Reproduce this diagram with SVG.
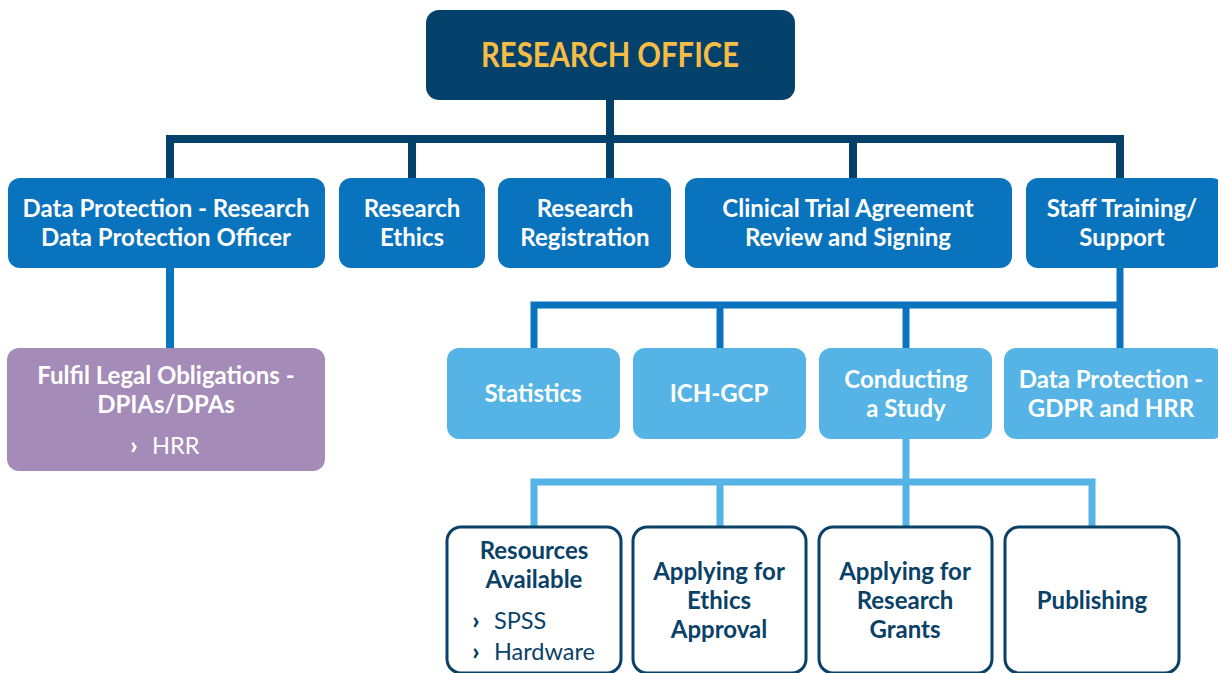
<svg xmlns="http://www.w3.org/2000/svg" width="1218" height="673" viewBox="0 0 1218 673">
<style>
text{font-family:Lato,"Noto Sans","Liberation Sans",sans-serif;text-anchor:middle;font-weight:bold}
.t1{fill:#fff;font-size:24px}
.t3{fill:#0a4167;font-size:24px}
.n{font-weight:normal;text-anchor:start;font-size:23.5px}
.ch{font-size:25px;font-weight:900}
.b1{fill:#0a73be}
.b2{fill:#55b4e5}
.b3{fill:#fff;stroke:#0a4167;stroke-width:3}
.c{fill:none;stroke-linejoin:miter;stroke-linecap:butt}
</style>
<rect width="1218" height="673" fill="#fff"/>
<g id="connectors">
<path class="c" d="M610,100 V178" stroke="#05426b" stroke-width="8"/>
<path class="c" d="M170,178 V139 H1120 V178 M412,139 V178 M853,139 V178" stroke="#05426b" stroke-width="8"/>
<path class="c" d="M170,268 V348" stroke="#0a73be" stroke-width="8"/>
<path class="c" d="M1120,268 V348 M534,348 V305 H1120 M720,305 V348 M906,305 V348" stroke="#0a73be" stroke-width="7"/>
<path class="c" d="M906,439 V527 M534,527 V482 H1092 V527 M720,482 V527" stroke="#55b4e5" stroke-width="7"/>
</g>
<g id="research-office">
<rect x="426" y="10" width="369" height="90" rx="13" fill="#05426b"/>
<text x="610" y="67" textLength="258" lengthAdjust="spacingAndGlyphs" style="font-size:34px;fill:#f5bd45">RESEARCH OFFICE</text>
</g>
<g id="data-protection-research">
<rect class="b1" x="8" y="178" width="317" height="90" rx="12"/>
<text class="t1" x="166" y="217">Data Protection - Research</text>
<text class="t1" x="166" y="246">Data Protection Officer</text>
</g>
<g id="research-ethics">
<rect class="b1" x="339" y="178" width="146" height="90" rx="12"/>
<text class="t1" x="412" y="217">Research</text>
<text class="t1" x="412" y="246">Ethics</text>
</g>
<g id="research-registration">
<rect class="b1" x="498" y="178" width="173" height="90" rx="12"/>
<text class="t1" x="585" y="217">Research</text>
<text class="t1" x="585" y="246">Registration</text>
</g>
<g id="clinical-trial">
<rect class="b1" x="685" y="178" width="327" height="90" rx="12"/>
<text class="t1" x="848" y="217">Clinical Trial Agreement</text>
<text class="t1" x="848" y="246">Review and Signing</text>
</g>
<g id="staff-training">
<rect class="b1" x="1026" y="178" width="198" height="90" rx="12"/>
<text class="t1" x="1122" y="217">Staff Training/</text>
<text class="t1" x="1122" y="246">Support</text>
</g>
<g id="fulfil-legal">
<rect x="7" y="348" width="318" height="123" rx="12" fill="#a58bb7"/>
<text class="t1" x="166" y="384">Fulfil Legal Obligations -</text>
<text class="t1" x="166" y="413">DPIAs/DPAs</text>
<text class="t1 ch" x="134" y="454">›</text>
<text class="t1 n" x="152" y="454">HRR</text>
</g>
<g id="statistics">
<rect class="b2" x="447" y="348" width="173" height="91" rx="12"/>
<text class="t1" x="533" y="402">Statistics</text>
</g>
<g id="ich-gcp">
<rect class="b2" x="633" y="348" width="173" height="91" rx="12"/>
<text class="t1" x="719" y="402">ICH-GCP</text>
</g>
<g id="conducting-study">
<rect class="b2" x="819" y="348" width="173" height="91" rx="12"/>
<text class="t1" x="906" y="388">Conducting</text>
<text class="t1" x="906" y="417">a Study</text>
</g>
<g id="data-protection-gdpr">
<rect class="b2" x="1004" y="348" width="220" height="91" rx="12"/>
<text class="t1" x="1111" y="388">Data Protection -</text>
<text class="t1" x="1111" y="417">GDPR and HRR</text>
</g>
<g id="resources">
<rect class="b3" x="447" y="527" width="174" height="146" rx="14"/>
<text class="t3" x="534" y="559">Resources</text>
<text class="t3" x="534" y="588">Available</text>
<text class="t3 ch" x="476" y="629">›</text>
<text class="t3 n" x="494" y="629">SPSS</text>
<text class="t3 ch" x="476" y="660">›</text>
<text class="t3 n" x="494" y="660">Hardware</text>
</g>
<g id="ethics-approval">
<rect class="b3" x="633" y="527" width="173" height="146" rx="14"/>
<text class="t3" x="719" y="580">Applying for</text>
<text class="t3" x="719" y="609">Ethics</text>
<text class="t3" x="719" y="638">Approval</text>
</g>
<g id="research-grants">
<rect class="b3" x="819" y="527" width="173" height="146" rx="14"/>
<text class="t3" x="905" y="580">Applying for</text>
<text class="t3" x="905" y="609">Research</text>
<text class="t3" x="905" y="638">Grants</text>
</g>
<g id="publishing">
<rect class="b3" x="1005" y="527" width="174" height="146" rx="14"/>
<text class="t3" x="1092" y="609">Publishing</text>
</g>
</svg>
